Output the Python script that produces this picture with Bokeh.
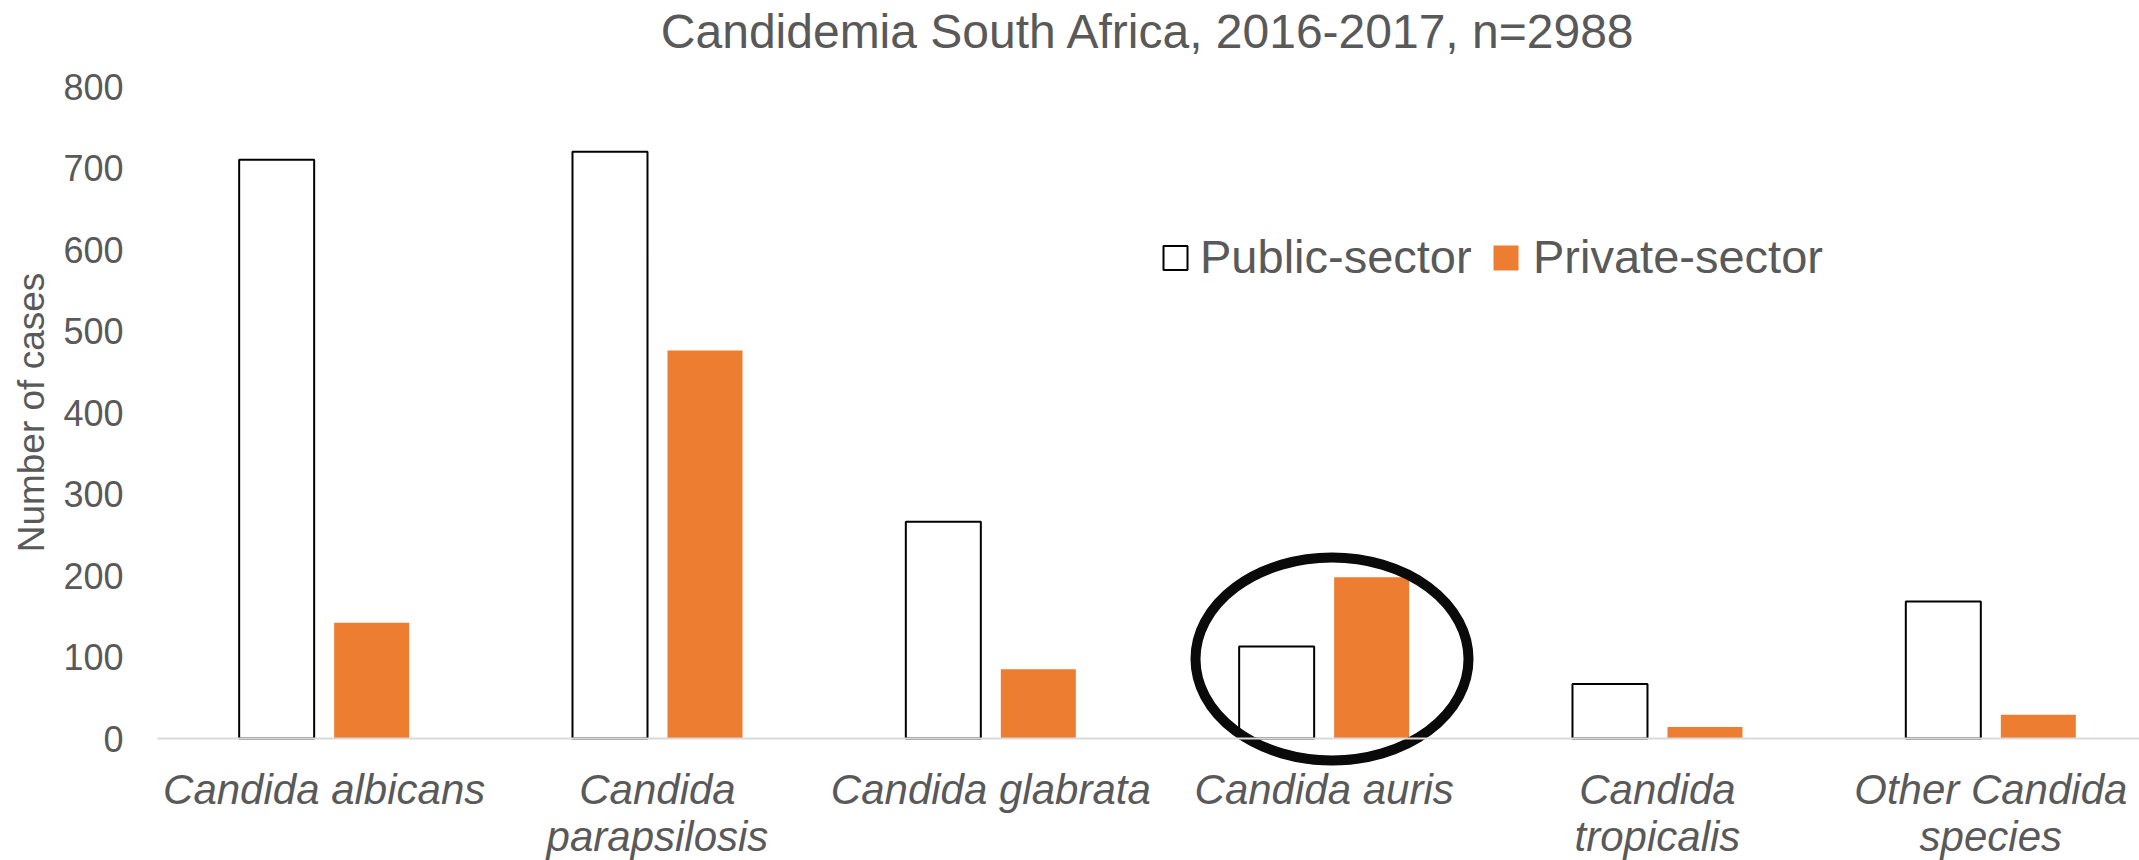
import math
from bokeh.plotting import figure
from bokeh.models import ColumnDataSource, Range1d, FixedTicker
from bokeh.transform import dodge
from bokeh.core.properties import value
from bokeh.embed import file_html
from bokeh.resources import INLINE

# ---------------- data ----------------
categories = ["Candida albicans", "Candida parapsilosis", "Candida glabrata",
              "Candida auris", "Candida tropicalis", "Other Candida species"]
tick_labels = ["Candida albicans", "Candida\nparapsilosis", "Candida glabrata",
               "Candida auris", "Candida\ntropicalis", "Other Candida\nspecies"]
public_sector = [710, 720, 266, 113, 67, 168]
private_sector = [142, 476, 85, 198, 14, 29]
series_names = ["Public-sector", "Private-sector"]
y_ticks = [0, 100, 200, 300, 400, 500, 600, 700, 800]
title_text = "Candidemia South Africa, 2016-2017, n=2988"
y_label = "Number of cases"

# ---------------- layout constants ----------------
W, H = 2139, 860
FRAME_L = 157          # canvas x of value-axis (category 0 left edge)
FRAME_T = 86           # canvas y of value 800
FRAME_B = 738          # canvas y of value 0
Y_MAX = 800
PX_PER_CAT = 333.33    # width of one category in px
PX_PER_UNIT = (FRAME_B - FRAME_T) / Y_MAX
FONT = "Liberation Sans"
GRAY = "#595959"
ORANGE = "#ED7D31"

def cx(px):
    return (px - FRAME_L) / PX_PER_CAT

def cy(py):
    return (FRAME_B - py) / PX_PER_UNIT

x_start = -FRAME_L / PX_PER_CAT
x_end = (W - FRAME_L) / PX_PER_CAT
y_start = -(H - FRAME_B) / PX_PER_UNIT
y_end = FRAME_B / PX_PER_UNIT

src = ColumnDataSource(dict(
    xc=[i + 0.5 for i in range(len(categories))],
    cat=categories,
    public=public_sector,
    private=private_sector,
))

p = figure(width=W, height=H, output_backend="svg", toolbar_location=None,
           x_range=Range1d(x_start, x_end), y_range=Range1d(y_start, y_end),
           min_border_left=0, min_border_right=0, min_border_top=0,
           min_border_bottom=0)
p.outline_line_color = None
p.xgrid.grid_line_color = None
p.ygrid.grid_line_color = None
p.background_fill_color = "white"
p.border_fill_color = "white"

BAR_W = 0.225
OFF = 0.1425
p.vbar(x=dodge("xc", -OFF), top="public", width=BAR_W, bottom=0, source=src,
       fill_color="white", line_color="black", line_width=2)
p.vbar(x=dodge("xc", OFF), top="private", width=BAR_W, bottom=0, source=src,
       fill_color=ORANGE, line_color=None)

# x axis, drawn at value 0
p.xaxis.fixed_location = 0
p.xaxis.bounds = (0, x_end)
p.xaxis.ticker = FixedTicker(ticks=[i + 0.5 for i in range(len(categories))])
p.xaxis.major_label_overrides = {i + 0.5: lab for i, lab in enumerate(tick_labels)}
p.xaxis.major_label_text_font = FONT
p.xaxis.major_label_text_font_size = "42px"
p.xaxis.major_label_text_font_style = "italic"
p.xaxis.major_label_text_color = GRAY
p.xaxis.major_label_text_line_height = 1.02
p.xaxis.major_label_standoff = 21
p.xaxis.major_tick_line_color = None
p.xaxis.minor_tick_line_color = None
p.xaxis.axis_line_color = "#D9D9D9"
p.xaxis.axis_line_width = 2

# y axis, drawn at the left edge of the first category
p.yaxis.fixed_location = 0
p.yaxis.bounds = (0, Y_MAX)
p.yaxis.ticker = FixedTicker(ticks=y_ticks)
p.yaxis.major_label_text_font = FONT
p.yaxis.major_label_text_font_size = "36px"
p.yaxis.major_label_text_color = GRAY
p.yaxis.major_label_standoff = 28
p.yaxis.major_tick_line_color = None
p.yaxis.minor_tick_line_color = None
p.yaxis.axis_line_color = None

# y-axis title, centred on the 0-800 value span
p.text(x=[cx(31)], y=[Y_MAX / 2], text=[y_label], angle=math.pi / 2,
       text_font=value(FONT), text_font_size="37px", text_color=GRAY,
       text_align="center", text_baseline="middle")

# chart title, centred over the plot area
p.text(x=[x_end / 2], y=[cy(31)], text=[title_text], text_font=value(FONT),
       text_font_size="48px", text_color=GRAY, text_align="center",
       text_baseline="middle")

# legend (manual)
p.rect(x=[cx(1175)], y=[cy(257.5)], width=24, height=24, width_units="screen",
       height_units="screen", fill_color="white", line_color="black", line_width=2)
p.rect(x=[cx(1505.5)], y=[cy(257.5)], width=25, height=25, width_units="screen",
       height_units="screen", fill_color=ORANGE, line_color=None)
p.text(x=[cx(1199.5), cx(1532.5)], y=[cy(256), cy(256)], text=series_names,
       text_font=value(FONT), text_font_size="47px", text_color=GRAY,
       text_align="left", text_baseline="middle")

# highlight ellipse around Candida auris
p.ellipse(x=[cx(1331.5)], y=[cy(658.5)], width=273, height=203,
          width_units="screen", height_units="screen",
          fill_color=None, line_color="#0a0a0a", line_width=10)

open("out.html", "w").write(file_html(p, INLINE))
